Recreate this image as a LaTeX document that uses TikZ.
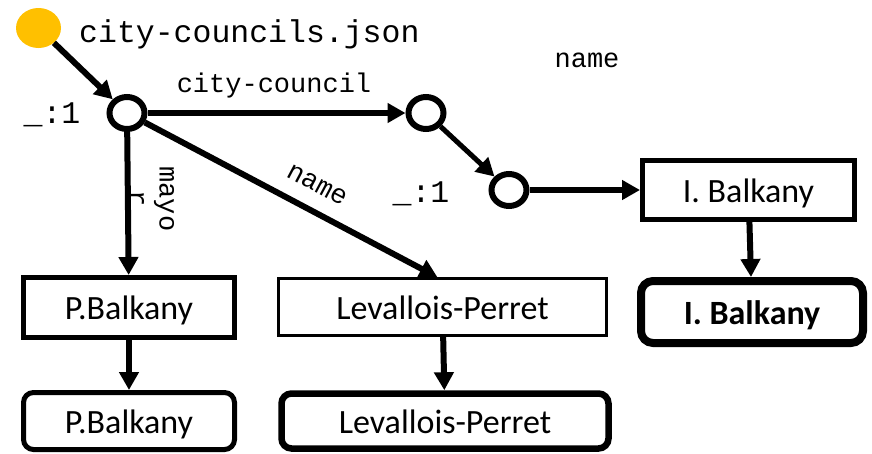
\documentclass[tikz,border=0pt]{standalone}
\usepackage{fontspec}
\setmonofont{Liberation Mono}
\newfontfamily\carlito{Carlito}
\usetikzlibrary{arrows.meta,shapes.geometric}
\definecolor{gold}{RGB}{255,192,0}

\begin{document}
\begin{tikzpicture}[x=1pt,y=-1pt,
        blank/.style={draw, ellipse, line width=6pt, minimum width=35pt, minimum height=32pt, inner sep=0pt},
        valbox/.style={draw, inner sep=0pt, text height=30pt, text depth=6pt, font=\carlito\fontsize{34}{40}\selectfont},
        link/.style={line width=6pt, -{Triangle[length=18pt,width=19pt]}},
        lbl/.style={inner sep=0pt, font=\ttfamily\fontsize{27}{30}\selectfont},
        bigl/.style={inner sep=0pt, font=\ttfamily\fontsize{31.5}{36}\selectfont}]
        \useasboundingbox (0,0) rectangle (872,453);

        \node [ellipse, fill=gold, minimum width=45pt, minimum height=40pt, inner sep=0pt] (src) at (38.5,28) {};
        \node [bigl, anchor=base west] (file) at (79,42) {city-councils.json};

        \node [blank] (b1) at (127,113) {};
        \node [blank] (b2) at (426,113) {};
        \node [blank] (b3) at (509,190) {};
        \node [bigl, anchor=base] (id1) at (52,123) {\_:1};
        \node [bigl, anchor=base] (id2) at (421,202) {\_:1};

        \node [valbox, line width=5pt, minimum width=211pt, minimum height=60pt] (pb) at (129,307.5) {P.Balkany};
        \node [valbox, line width=5pt, rounded corners=10pt, minimum width=211pt, minimum height=57pt] (pbr) at (129,421) {P.Balkany};
        \node [valbox, line width=2.5pt, minimum width=328pt, minimum height=57pt] (lp) at (442.5,307) {Levallois-Perret};
        \node [valbox, line width=6.5pt, rounded corners=10pt, minimum width=327pt, minimum height=55pt] (lpr) at (445,421) {Levallois-Perret};
        \node [valbox, line width=5pt, minimum width=212pt, minimum height=59pt] (ib) at (748.5,190) {I. Balkany};
        \node [valbox, line width=8pt, rounded corners=12pt, minimum width=222pt, minimum height=62pt] (ibr) at (752,312) {\bfseries I. Balkany};

        \node [lbl, anchor=base] (cc) at (274,92) {city-council};
        \node [lbl, anchor=base] (nm1) at (587,67) {name};
        \node [lbl, rotate=-28] (nm2) at (317,185) {name};
        \node [lbl, rotate=-90, align=center] (mayor) at (152,199) {mayo\\r};

        \draw [link] (src) -- (b1);
        \draw [link] (b1) -- (b2);
        \draw [link] (b1) -- (pb);
        \draw [link] (b1) -- ([xshift=-5pt]lp.north);
        \draw [link, line width=5pt] (b2) -- (b3);
        \draw [link] (b3) -- (ib);
        \draw [link] (ib) -- (ibr);
        \draw [link] (pb) -- (pbr);
        \draw [link] (lp) -- (lpr);
    \end{tikzpicture}
\end{document}
